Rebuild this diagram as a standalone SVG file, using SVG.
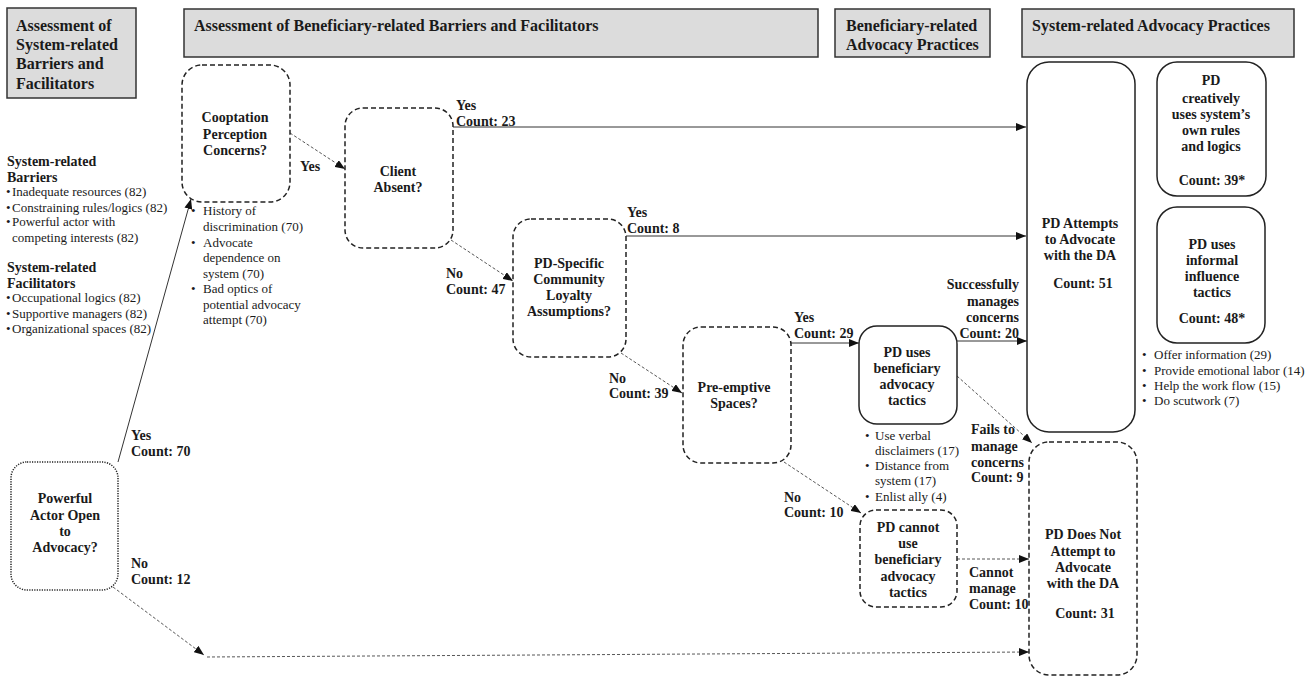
<svg xmlns="http://www.w3.org/2000/svg" width="1314" height="678" viewBox="0 0 1314 678">
<defs>
<marker id="arr" markerUnits="userSpaceOnUse" markerWidth="11" markerHeight="8" refX="10" refY="4" orient="auto">
<path d="M0,0 L10,4 L0,8 z" fill="#111"/>
</marker>
<style>
.hdr{fill:#dcdcdc;stroke:#333;stroke-width:1.5}
.ht{font-family:"Liberation Serif","Times New Roman",serif;font-weight:bold;font-size:16px;fill:#1a1a1a}
.nt{font-family:"Liberation Serif","Times New Roman",serif;font-weight:bold;font-size:14px;fill:#1a1a1a;text-anchor:middle}
.lt{font-family:"Liberation Serif","Times New Roman",serif;font-weight:bold;font-size:14px;fill:#1a1a1a}
.bt{font-family:"Liberation Serif","Times New Roman",serif;font-size:13px;fill:#1a1a1a}
.solid{fill:#fff;stroke:#222;stroke-width:1.5}
.dash{fill:#fff;stroke:#222;stroke-width:1.5;stroke-dasharray:5,3}
.dot{fill:#fff;stroke:#222;stroke-width:1.5;stroke-dasharray:1.2,1.3}
.cs{fill:none;stroke:#333;stroke-width:1}
.cd{fill:none;stroke:#444;stroke-width:0.9;stroke-dasharray:3,2}
</style>
</defs>
<rect width="1314" height="678" fill="#fff"/>

<g id="header1">
<rect class="hdr" x="7" y="8" width="129" height="90"/>
<text class="ht" x="16" y="31">Assessment of</text>
<text class="ht" x="16" y="50">System-related</text>
<text class="ht" x="16" y="69">Barriers and</text>
<text class="ht" x="16" y="89">Facilitators</text>
</g>
<g id="header2">
<rect class="hdr" x="184" y="9" width="634" height="48"/>
<text class="ht" x="194" y="31">Assessment of Beneficiary-related Barriers and Facilitators</text>
</g>
<g id="header3">
<rect class="hdr" x="835" y="9" width="155" height="48"/>
<text class="ht" x="846" y="31">Beneficiary-related</text>
<text class="ht" x="846" y="50">Advocacy Practices</text>
</g>
<g id="header4">
<rect class="hdr" x="1022" y="9" width="272" height="48"/>
<text class="ht" x="1032" y="31">System-related Advocacy Practices</text>
</g>

<g id="system-factors">
<text class="lt" x="7" y="166">System-related</text>
<text class="lt" x="7" y="182">Barriers</text>
<text class="bt" x="6" y="196">•</text><text class="bt" x="12" y="196">Inadequate resources (82)</text>
<text class="bt" x="6" y="211.5">•</text><text class="bt" x="12" y="211.5">Constraining rules/logics (82)</text>
<text class="bt" x="6" y="226">•</text><text class="bt" x="12" y="226">Powerful actor with</text>
<text class="bt" x="12" y="241.5">competing interests (82)</text>
<text class="lt" x="7" y="272">System-related</text>
<text class="lt" x="7" y="288">Facilitators</text>
<text class="bt" x="6" y="302">•</text><text class="bt" x="12" y="302">Occupational logics (82)</text>
<text class="bt" x="6" y="317.5">•</text><text class="bt" x="12" y="317.5">Supportive managers (82)</text>
<text class="bt" x="6" y="332.5">•</text><text class="bt" x="12" y="332.5">Organizational spaces (82)</text>
</g>

<g id="connectors">
<path class="cs" d="M118,462 L191,199" marker-end="url(#arr)"/>
<path class="cd" d="M290,133 L345,169" marker-end="url(#arr)"/>
<path class="cs" d="M452,127 L1026,127" marker-end="url(#arr)"/>
<path class="cd" d="M451,240 L513,281" marker-end="url(#arr)"/>
<path class="cs" d="M626,236 L1026,236" marker-end="url(#arr)"/>
<path class="cd" d="M621,353 L682,393" marker-end="url(#arr)"/>
<path class="cs" d="M790,343 L859,343" marker-end="url(#arr)"/>
<path class="cd" d="M784,462 L861,513" marker-end="url(#arr)"/>
<path class="cs" d="M957,341 L1027,341" marker-end="url(#arr)"/>
<path class="cd" d="M957,376 L1032,443" marker-end="url(#arr)"/>
<path class="cd" d="M957,559 L1029,559" marker-end="url(#arr)"/>
<path class="cd" d="M113,587 L204,655" marker-end="url(#arr)"/>
<path class="cd" d="M207,657 L1029,652" marker-end="url(#arr)"/>
<g id="connector-labels">
<text class="lt" x="131" y="440">Yes</text><text class="lt" x="131" y="455.5">Count: 70</text>
<text class="lt" x="131" y="568">No</text><text class="lt" x="131" y="584">Count: 12</text>
<text class="lt" x="300" y="171">Yes</text>
<text class="lt" x="456" y="110">Yes</text><text class="lt" x="456" y="125.5">Count: 23</text>
<text class="lt" x="446" y="277.5">No</text><text class="lt" x="446" y="294">Count: 47</text>
<text class="lt" x="627" y="216.5">Yes</text><text class="lt" x="627" y="233">Count: 8</text>
<text class="lt" x="609" y="383">No</text><text class="lt" x="609" y="398">Count: 39</text>
<text class="lt" x="794" y="322">Yes</text><text class="lt" x="794" y="338">Count: 29</text>
<text class="lt" x="784" y="502">No</text><text class="lt" x="784" y="517">Count: 10</text>
<g text-anchor="end">
<text class="lt" x="1019" y="289">Successfully</text>
<text class="lt" x="1019" y="305.5">manages</text>
<text class="lt" x="1019" y="321.5">concerns</text>
<text class="lt" x="1019" y="337.5">Count: 20</text>
</g>
<text class="lt" x="971" y="434">Fails to</text>
<text class="lt" x="971" y="450.5">manage</text>
<text class="lt" x="971" y="466.5">concerns</text>
<text class="lt" x="971" y="481.5">Count: 9</text>
<text class="lt" x="969" y="577">Cannot</text>
<text class="lt" x="969" y="593">manage</text>
<text class="lt" x="969" y="609">Count: 10</text>
</g>
</g>

<g id="powerful-actor">
<rect class="dot" x="11" y="462" width="107" height="128" rx="16"/>
<text class="nt" x="65" y="503">Powerful</text>
<text class="nt" x="65" y="519.5">Actor Open</text>
<text class="nt" x="65" y="536">to</text>
<text class="nt" x="65" y="552">Advocacy?</text>
</g>

<g id="cooptation">
<rect class="dash" x="182" y="65" width="108" height="137" rx="20"/>
<text class="nt" x="235" y="122">Cooptation</text>
<text class="nt" x="235" y="138.5">Perception</text>
<text class="nt" x="235" y="155">Concerns?</text>
<text class="bt" x="191" y="214.5">•</text><text class="bt" x="203" y="214.5">History of</text>
<text class="bt" x="203" y="231">discrimination (70)</text>
<text class="bt" x="191" y="246.5">•</text><text class="bt" x="203" y="246.5">Advocate</text>
<text class="bt" x="203" y="261.5">dependence on</text>
<text class="bt" x="203" y="277.5">system (70)</text>
<text class="bt" x="191" y="292.5">•</text><text class="bt" x="203" y="292.5">Bad optics of</text>
<text class="bt" x="203" y="308.5">potential advocacy</text>
<text class="bt" x="203" y="323.5">attempt (70)</text>
</g>

<g id="client-absent">
<rect class="dash" x="345" y="108" width="108" height="140" rx="18"/>
<text class="nt" x="398" y="175.5">Client</text>
<text class="nt" x="398" y="192">Absent?</text>
</g>

<g id="pd-specific">
<rect class="dash" x="513" y="219" width="113" height="138" rx="18"/>
<text class="nt" x="569" y="268">PD-Specific</text>
<text class="nt" x="569" y="284">Community</text>
<text class="nt" x="569" y="300">Loyalty</text>
<text class="nt" x="569" y="316">Assumptions?</text>
</g>

<g id="pre-emptive">
<rect class="dash" x="683" y="327" width="108" height="136" rx="18"/>
<text class="nt" x="734" y="392">Pre-emptive</text>
<text class="nt" x="734" y="408">Spaces?</text>
</g>

<g id="pd-uses-beneficiary">
<rect class="solid" x="859" y="326" width="98" height="98" rx="18"/>
<text class="nt" x="907" y="357">PD uses</text>
<text class="nt" x="907" y="373">beneficiary</text>
<text class="nt" x="907" y="389">advocacy</text>
<text class="nt" x="907" y="405">tactics</text>
<text class="bt" x="865" y="439.5">•</text><text class="bt" x="875" y="439.5">Use verbal</text>
<text class="bt" x="875" y="454.5">disclaimers (17)</text>
<text class="bt" x="865" y="469.5">•</text><text class="bt" x="875" y="469.5">Distance from</text>
<text class="bt" x="875" y="484.5">system (17)</text>
<text class="bt" x="865" y="500.5">•</text><text class="bt" x="875" y="500.5">Enlist ally (4)</text>
</g>

<g id="pd-cannot-use">
<rect class="dash" x="860" y="510" width="97" height="97" rx="16"/>
<text class="nt" x="908" y="532">PD cannot</text>
<text class="nt" x="908" y="548">use</text>
<text class="nt" x="908" y="564">beneficiary</text>
<text class="nt" x="908" y="581">advocacy</text>
<text class="nt" x="908" y="597">tactics</text>
</g>

<g id="pd-attempts">
<rect class="solid" x="1027" y="62" width="108" height="370" rx="22"/>
<text class="nt" x="1080" y="228">PD Attempts</text>
<text class="nt" x="1080" y="244">to Advocate</text>
<text class="nt" x="1080" y="260">with the DA</text>
<text class="nt" x="1083" y="288">Count: 51</text>
</g>

<g id="pd-does-not">
<rect class="dash" x="1029" y="442" width="108" height="233" rx="20"/>
<text class="nt" x="1083" y="539">PD Does Not</text>
<text class="nt" x="1083" y="555.5">Attempt to</text>
<text class="nt" x="1083" y="572">Advocate</text>
<text class="nt" x="1083" y="588">with the DA</text>
<text class="nt" x="1085" y="618">Count: 31</text>
</g>

<g id="pd-creatively">
<rect class="solid" x="1157" y="62" width="109" height="134" rx="20"/>
<text class="nt" x="1211" y="85">PD</text>
<text class="nt" x="1211" y="102.5">creatively</text>
<text class="nt" x="1211" y="118.5">uses system’s</text>
<text class="nt" x="1211" y="134.5">own rules</text>
<text class="nt" x="1211" y="150.5">and  logics</text>
<text class="nt" x="1212" y="185">Count: 39*</text>
</g>

<g id="pd-informal">
<rect class="solid" x="1157" y="207" width="108" height="136" rx="20"/>
<text class="nt" x="1212" y="249">PD uses</text>
<text class="nt" x="1212" y="265">informal</text>
<text class="nt" x="1212" y="281">influence</text>
<text class="nt" x="1212" y="297">tactics</text>
<text class="nt" x="1212" y="323">Count: 48*</text>
<text class="bt" x="1142" y="358.5">•</text><text class="bt" x="1154" y="358.5">Offer information (29)</text>
<text class="bt" x="1142" y="374.5">•</text><text class="bt" x="1154" y="374.5">Provide emotional labor (14)</text>
<text class="bt" x="1142" y="389.5">•</text><text class="bt" x="1154" y="389.5">Help the work flow (15)</text>
<text class="bt" x="1142" y="404.5">•</text><text class="bt" x="1154" y="404.5">Do scutwork (7)</text>
</g>
</svg>
